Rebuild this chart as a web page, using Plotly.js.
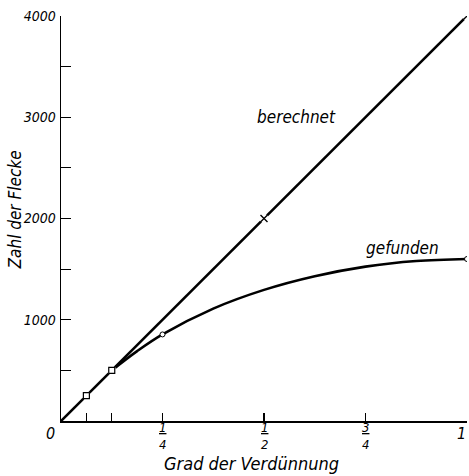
<!DOCTYPE html>
<html>
<head>
<meta charset="utf-8">
<script src="https://cdn.plot.ly/plotly-3.0.1.min.js"></script>
<style>html,body{margin:0;padding:0;background:#fff}#chart{width:469px;height:476px}</style>
</head>
<body>
<div id="chart"></div>
<script>
// berechnet (calculated) values
var berX = [0, 0.0625, 0.125, 0.5, 1];
var berY = [0, 250, 500, 2000, 4000];
// gefunden (found) curve
var gefX = [0.125, 0.1875, 0.25, 0.375, 0.5, 0.625, 0.75, 0.875, 1];
var gefY = [500, 690, 855, 1110, 1295, 1430, 1525, 1580, 1600];
// measured points on the found curve
var gefPtX = [0.25, 1];
var gefPtY = [855, 1600];
// x ticks and fraction labels
var xTickVals = [0.0625, 0.125, 0.25, 0.5, 0.75, 1];
var xFracVals = [0.25, 0.5, 0.75];
var xFracNum = ["1", "1", "3"];
var xFracDen = ["4", "2", "4"];
// y ticks
var yTickVals = [500, 1000, 1500, 2000, 2500, 3000, 3500, 4000];
var yTickText = ["", "1000", "", "2000", "", "3000", "", "4000"];

var FONT = "DejaVu Sans Condensed, Liberation Sans Narrow, sans-serif";

var traces = [
  {x: gefX, y: gefY, mode: "lines", line: {color: "#000", width: 2.6, shape: "spline"}, hoverinfo: "skip"},
  {x: berX, y: berY, mode: "lines", line: {color: "#000", width: 2.6}, hoverinfo: "skip"},
  // gaps around markers on the calculated line
  {x: berX.slice(1), y: berY.slice(1), mode: "markers",
   marker: {symbol: "circle", size: 9, color: "#fff", line: {width: 0}}, hoverinfo: "skip"},
  {x: berX.slice(1, 3), y: berY.slice(1, 3), mode: "markers",
   marker: {symbol: "square", size: 6, color: "#fff", line: {color: "#000", width: 1.2}}, hoverinfo: "skip"},
  {x: berX.slice(3), y: berY.slice(3), mode: "markers",
   marker: {symbol: "x-thin-open", size: 7, color: "#000", line: {color: "#000", width: 1.4}}, hoverinfo: "skip"},
  {x: gefPtX, y: gefPtY, mode: "markers",
   marker: {symbol: "circle", size: 5, color: "#fff", line: {color: "#000", width: 1}}, hoverinfo: "skip"}
];

var annotations = [
  {x: 0, y: 0, xref: "x", yref: "y", text: "<i>0</i>", showarrow: false,
   xanchor: "center", yanchor: "middle", xshift: -11, yshift: -12, font: {size: 16}},
  {x: 1, y: 0, xref: "x", yref: "y", text: "<i>1</i>", showarrow: false,
   xanchor: "right", yanchor: "middle", xshift: 1, yshift: -12, font: {size: 16}},
  {x: 0.579, y: 3000, xref: "x", yref: "y", text: "<i>berechnet</i>", showarrow: false,
   font: {size: 17}},
  {x: 0.84, y: 1709, xref: "x", yref: "y", text: "<i>gefunden</i>", showarrow: false,
   font: {size: 17}},
  {x: 0.47, y: 0, xref: "paper", yref: "paper", text: "<i>Grad der Verdünnung</i>", showarrow: false,
   xanchor: "center", yanchor: "middle", yshift: -42, font: {size: 18}},
  {x: 0, y: 0.52, xref: "paper", yref: "paper", text: "<i>Zahl der Flecke</i>", showarrow: false,
   textangle: -90, xanchor: "center", yanchor: "middle", xshift: -46, font: {size: 17}}
];
for (var i = 0; i < xFracVals.length; i++) {
  annotations.push({x: xFracVals[i], y: 0, xref: "x", yref: "y",
    text: "<i><u>" + xFracNum[i] + "</u><br>" + xFracDen[i] + "</i>",
    showarrow: false, xanchor: "center", yanchor: "middle", yshift: -15,
    borderpad: 0, font: {size: 13}});
}

var layout = {
  width: 469, height: 476,
  margin: {l: 61, r: 2, t: 16, b: 55},
  paper_bgcolor: "#fff", plot_bgcolor: "#fff",
  showlegend: false,
  font: {family: FONT, color: "#000", size: 16},
  xaxis: {
    range: [0, 1], showgrid: false, zeroline: false,
    showline: true, linecolor: "#000", linewidth: 1.5,
    ticks: "inside", ticklen: 8, tickwidth: 1.2, tickcolor: "#000",
    tickmode: "array", tickvals: xTickVals, showticklabels: false
  },
  yaxis: {
    range: [0, 4000], showgrid: false, zeroline: false,
    showline: true, linecolor: "#000", linewidth: 1.5,
    ticks: "inside", ticklen: 10, tickwidth: 1.2, tickcolor: "#000",
    tickmode: "array", tickvals: yTickVals, ticktext: yTickText,
    tickfont: {family: FONT, size: 14, style: "italic"},
    ticklabelstandoff: 1
  },
  annotations: annotations
};

Plotly.newPlot("chart", traces, layout, {displayModeBar: false, staticPlot: true});
</script>
</body>
</html>
